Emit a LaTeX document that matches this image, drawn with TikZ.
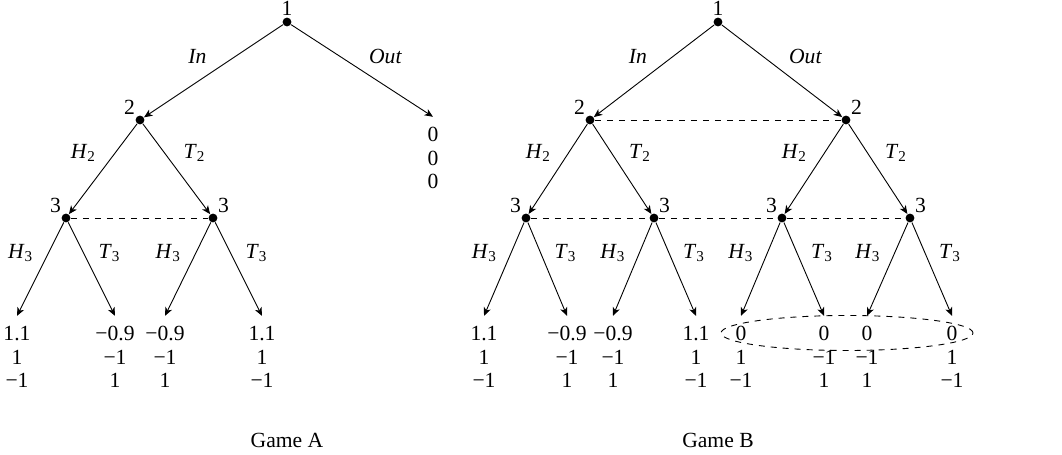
\documentclass[tikz,border=0pt]{standalone}
\usepackage{fontspec}
\setmainfont{Liberation Serif}
\usetikzlibrary{shapes.geometric, arrows.meta}
\tikzstyle{dot} = [circle, fill=black, inner sep=0pt, minimum size=4.4pt]
\tikzstyle{pay} = [align=center, inner sep=5pt]
\tikzstyle{arrow} = [-{Stealth[length=4.2pt, width=3.6pt, inset=1.2pt]}]
\tikzstyle{info} = [dashed]
\tikzstyle{player} = [inner sep=0.6pt]
\newcommand{\lab}[2]{\textit{#1}\textsubscript{#2}}

\begin{document}
\begin{tikzpicture}[x=0.5pt, y=-0.5pt, line width=0.45pt, font=\fontsize{10.8}{11.75}\selectfont]
    \useasboundingbox (0,0) rectangle (1062,455);
    % Game A
    \node(ra)[dot, label={[player]above:1}] at (287,22) {};
    \node(a2)[dot, label={[player]above left:2}] at (140,120) {};
    \node(a3l)[dot, label={[player]above left:3}] at (66,218) {};
    \node(a3r)[dot, label={[player]above right:3}] at (213,218) {};
    \node(aout)[pay] at (433,158) {0\\0\\0};
    \node(pa1)[pay] at (17,357) {1.1\\1\\−1};
    \node(pa2)[pay] at (115,357) {−0.9\\−1\\1};
    \node(pa3)[pay] at (165,357) {−0.9\\−1\\1};
    \node(pa4)[pay] at (262,357) {1.1\\1\\−1};
    \draw[arrow](ra)--node[above left] {\textit{In}} (a2);
    \draw[arrow](ra)--node[above right] {\textit{Out}} (aout.north);
    \draw[arrow](a2)--node[above left] {\lab{H}{2}} (a3l);
    \draw[arrow](a2)--node[above right] {\lab{T}{2}} (a3r);
    \draw[arrow](a3l)--node[above left] {\lab{H}{3}} (pa1.north);
    \draw[arrow](a3l)--node[above right] {\lab{T}{3}} (pa2.north);
    \draw[arrow](a3r)--node[above left] {\lab{H}{3}} (pa3.north);
    \draw[arrow](a3r)--node[above right] {\lab{T}{3}} (pa4.north);
    \draw[info](a3l)--(a3r);
    \node(capA) at (287,440) {Game A};
    % Game B
    \node(rb)[dot, label={[player]above:1}] at (718,22) {};
    \node(b2l)[dot, label={[player]above left:2}] at (590,120) {};
    \node(b2r)[dot, label={[player]above right:2}] at (846,120) {};
    \node(b3a)[dot, label={[player]above left:3}] at (526,218) {};
    \node(b3b)[dot, label={[player]above right:3}] at (654,218) {};
    \node(b3c)[dot, label={[player]above left:3}] at (782,218) {};
    \node(b3d)[dot, label={[player]above right:3}] at (910,218) {};
    \node(pb1)[pay] at (484,357) {1.1\\1\\−1};
    \node(pb2)[pay] at (567,357) {−0.9\\−1\\1};
    \node(pb3)[pay] at (613,357) {−0.9\\−1\\1};
    \node(pb4)[pay] at (696,357) {1.1\\1\\−1};
    \node(pb5)[pay] at (741,357) {0\\1\\−1};
    \node(pb6)[pay] at (824,357) {0\\−1\\1};
    \node(pb7)[pay] at (867,357) {0\\−1\\1};
    \node(pb8)[pay] at (952,357) {0\\1\\−1};
    \draw[arrow](rb)--node[above left] {\textit{In}} (b2l);
    \draw[arrow](rb)--node[above right] {\textit{Out}} (b2r);
    \draw[arrow](b2l)--node[above left] {\lab{H}{2}} (b3a);
    \draw[arrow](b2l)--node[above right] {\lab{T}{2}} (b3b);
    \draw[arrow](b2r)--node[above left] {\lab{H}{2}} (b3c);
    \draw[arrow](b2r)--node[above right] {\lab{T}{2}} (b3d);
    \draw[arrow](b3a)--node[above left] {\lab{H}{3}} (pb1.north);
    \draw[arrow](b3a)--node[above right] {\lab{T}{3}} (pb2.north);
    \draw[arrow](b3b)--node[above left] {\lab{H}{3}} (pb3.north);
    \draw[arrow](b3b)--node[above right] {\lab{T}{3}} (pb4.north);
    \draw[arrow](b3c)--node[above left] {\lab{H}{3}} (pb5.north);
    \draw[arrow](b3c)--node[above right] {\lab{T}{3}} (pb6.north);
    \draw[arrow](b3d)--node[above left] {\lab{H}{3}} (pb7.north);
    \draw[arrow](b3d)--node[above right] {\lab{T}{3}} (pb8.north);
    \draw[info](b2l)--(b2r);
    \draw[info](b3a)--(b3b)--(b3c)--(b3d);
    \node(zeros)[ellipse, draw, dashed, minimum width=126pt, minimum height=17.5pt, inner sep=0pt] at (847,333) {};
    \node(capB) at (718,440) {Game B};
\end{tikzpicture}
\end{document}
